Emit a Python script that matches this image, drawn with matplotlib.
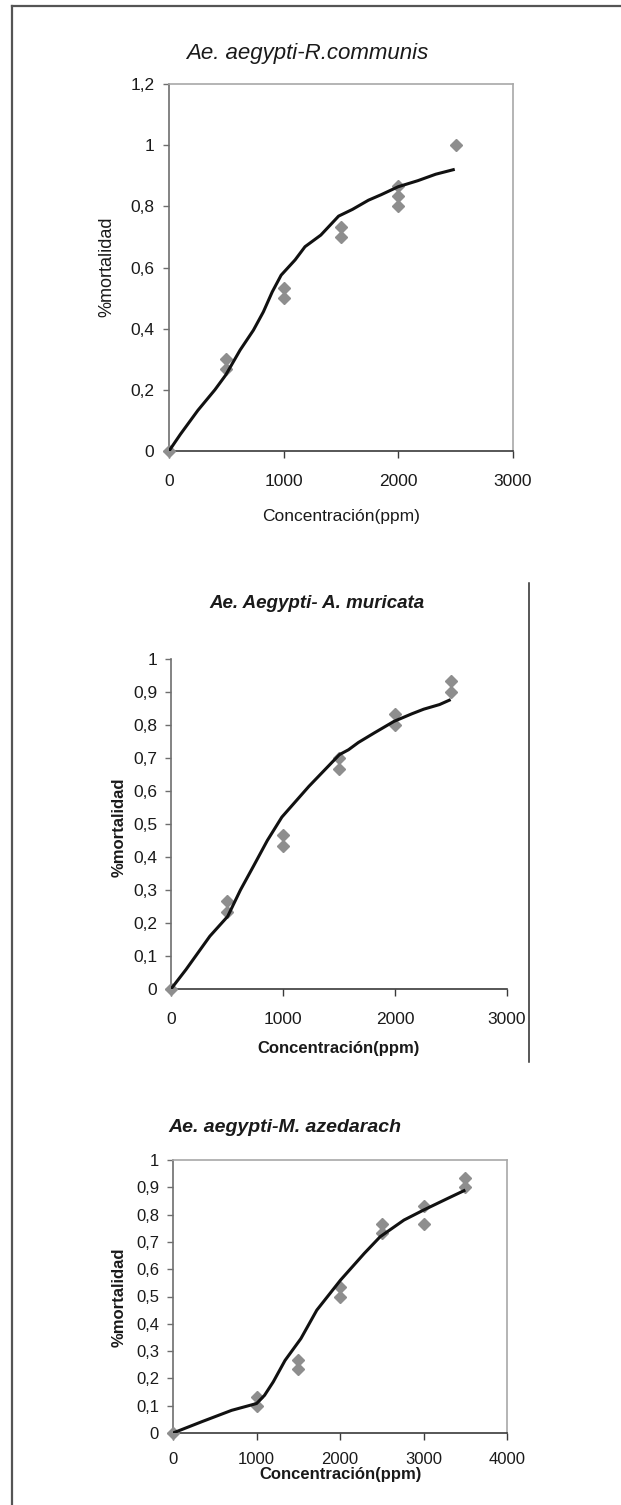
import numpy as np
import matplotlib
matplotlib.use("Agg")
import matplotlib.pyplot as plt
from matplotlib.lines import Line2D

plt.rcParams["font.family"] = ["Liberation Sans", "DejaVu Sans"]

# ------------------------------
# Data
# ------------------------------
# Ae. aegypti - R. communis
rc_x = [0, 500, 500, 1000, 1000, 1500, 1500, 2000, 2000, 2000, 2500]
rc_y = [0, 0.30, 0.267, 0.533, 0.50, 0.733, 0.70, 0.867, 0.833, 0.80, 1.0]
rc_fit_x = [0, 100, 252, 400, 494, 620, 736, 823, 900, 978, 1100, 1186, 1324, 1479,
            1600, 1739, 1850, 1998, 2171, 2326, 2492]
rc_fit_y = [0, 0.055, 0.133, 0.20, 0.248, 0.33, 0.395, 0.455, 0.52, 0.575, 0.625,
            0.668, 0.706, 0.768, 0.790, 0.820, 0.838, 0.864, 0.884, 0.905, 0.921]

# Ae. aegypti - A. muricata
am_x = [0, 500, 500, 1000, 1000, 1500, 1500, 2000, 2000, 2500, 2500]
am_y = [0, 0.267, 0.233, 0.467, 0.433, 0.70, 0.667, 0.833, 0.80, 0.933, 0.90]
am_fit_x = [0, 134, 347, 506, 620, 736, 860, 990, 1231, 1503, 1585, 1673, 1815,
            1991, 2151, 2257, 2398, 2497]
am_fit_y = [0, 0.059, 0.160, 0.220, 0.30, 0.372, 0.45, 0.521, 0.614, 0.710, 0.725,
            0.747, 0.776, 0.811, 0.834, 0.848, 0.862, 0.877]

# Ae. aegypti - M. azedarach
ma_x = [0, 1000, 1000, 1500, 1500, 2000, 2000, 2500, 2500, 3000, 3000, 3500, 3500]
ma_y = [0, 0.133, 0.10, 0.267, 0.233, 0.533, 0.50, 0.767, 0.733, 0.833, 0.767, 0.933, 0.90]
ma_fit_x = [0, 350, 702, 1001, 1096, 1200, 1342, 1532, 1722, 2006, 2291, 2481,
            2766, 3003, 3288, 3501]
ma_fit_y = [0, 0.042, 0.083, 0.108, 0.138, 0.187, 0.266, 0.346, 0.450, 0.560,
            0.658, 0.719, 0.780, 0.817, 0.859, 0.890]

W, H = 621, 1505
fig = plt.figure(figsize=(W / 100, H / 100), dpi=100)
fig.patch.set_facecolor("white")


def px_axes(x0, y0, x1, y1):
    # pixel box (top-left origin) -> figure axes
    return fig.add_axes([x0 / W, 1 - y1 / H, (x1 - x0) / W, (y1 - y0) / H])


def fx(x):
    return x / W


def fy(y):
    return 1 - y / H


def style_axes(ax, box, tick_size, xpad, ypad=6.5):
    ax.set_facecolor("white")
    ax.spines["left"].set_color("#6e6e6e")
    ax.spines["bottom"].set_color("#3a3a3a")
    ax.spines["left"].set_linewidth(1.2)
    ax.spines["bottom"].set_linewidth(1.2)
    if box:
        for s in ("top", "right"):
            ax.spines[s].set_color("#a8a8a8")
            ax.spines[s].set_linewidth(1.2)
    else:
        ax.spines["top"].set_visible(False)
        ax.spines["right"].set_visible(False)
    ax.tick_params(axis="y", direction="out", length=4, width=1, color="#6e6e6e",
                   labelsize=tick_size, pad=ypad, colors="#6e6e6e", labelcolor="#1a1a1a")
    ax.tick_params(axis="x", direction="out", length=5, width=1, color="#3a3a3a",
                   labelsize=tick_size, pad=xpad, labelcolor="#1a1a1a")


def draw(ax, px, py, fx_, fy_):
    ax.plot(px, py, linestyle="none", marker="D", markersize=6.2, color="#8e8e8e",
            markeredgecolor="#8e8e8e", clip_on=False, zorder=3)
    ax.plot(fx_, fy_, color="#111111", linewidth=2.2, solid_capstyle="butt", zorder=4)


def comma(v):
    s = f"{v:.1f}".replace(".", ",")
    if s.endswith(",0"):
        s = s[:-2]
    return s


# ------------------------------
# Panel 1
# ------------------------------
ax1 = px_axes(169, 84, 513, 451)
draw(ax1, rc_x, rc_y, rc_fit_x, rc_fit_y)
ax1.set_xlim(0, 3000)
ax1.set_ylim(0, 1.2)
ax1.set_xticks([0, 1000, 2000, 3000])
yt = np.round(np.arange(0, 1.21, 0.2), 1)
ax1.set_yticks(yt)
ax1.set_yticklabels([comma(v) for v in yt])
style_axes(ax1, True, 12.5, 11.5)
fig.text(fx(307), fy(53), "Ae. aegypti-R.communis", ha="center", va="center",
         fontsize=16, style="italic", color="#1a1a1a")
fig.text(fx(341), fy(516), "Concentración(ppm)", ha="center", va="center",
         fontsize=12.5, color="#1a1a1a")
fig.text(fx(107), fy(267), "%mortalidad", ha="center", va="center",
         fontsize=13, rotation=90, color="#1a1a1a")

# ------------------------------
# Panel 2
# ------------------------------
ax2 = px_axes(171, 659, 507, 989)
draw(ax2, am_x, am_y, am_fit_x, am_fit_y)
ax2.set_xlim(0, 3000)
ax2.set_ylim(0, 1)
ax2.set_xticks([0, 1000, 2000, 3000])
yt2 = np.round(np.arange(0, 1.01, 0.1), 1)
ax2.set_yticks(yt2)
ax2.set_yticklabels([comma(v) for v in yt2])
style_axes(ax2, False, 12.5, 11.5, ypad=6)
fig.text(fx(317), fy(603), "Ae. Aegypti- A. muricata", ha="center", va="center",
         fontsize=13.5, style="italic", weight="bold", color="#1a1a1a")
fig.text(fx(339), fy(1048), "Concentración(ppm)", ha="center", va="center",
         fontsize=12, weight="bold", color="#1a1a1a")
fig.text(fx(119), fy(827), "%mortalidad", ha="center", va="center",
         fontsize=12, weight="bold", rotation=90, color="#1a1a1a")
fig.add_artist(Line2D([fx(528.5), fx(528.5)], [fy(583), fy(1062)],
                      color="#2a2a2a", linewidth=1.1))

# ------------------------------
# Panel 3
# ------------------------------
ax3 = px_axes(173, 1160, 507, 1433)
draw(ax3, ma_x, ma_y, ma_fit_x, ma_fit_y)
ax3.set_xlim(0, 4000)
ax3.set_ylim(0, 1)
ax3.set_xticks([0, 1000, 2000, 3000, 4000])
ax3.set_yticks(yt2)
ax3.set_yticklabels([comma(v) for v in yt2])
style_axes(ax3, True, 12, 8.5, ypad=6)
fig.text(fx(285), fy(1128), "Ae. aegypti-M. azedarach", ha="center", va="center",
         fontsize=14, style="italic", weight="bold", color="#1a1a1a")
fig.text(fx(341), fy(1475), "Concentración(ppm)", ha="center", va="center",
         fontsize=12, weight="bold", color="#1a1a1a")
fig.text(fx(119), fy(1297), "%mortalidad", ha="center", va="center",
         fontsize=12, weight="bold", rotation=90, color="#1a1a1a")

# ------------------------------
# Outer frame (top + left only)
# ------------------------------
fig.add_artist(Line2D([fx(12), fx(W)], [fy(6), fy(6)], color="#555555", linewidth=1.6))
fig.add_artist(Line2D([fx(12), fx(12)], [fy(6), fy(H)], color="#555555", linewidth=1.6))

fig.savefig("out.png", dpi=100, facecolor="white")
